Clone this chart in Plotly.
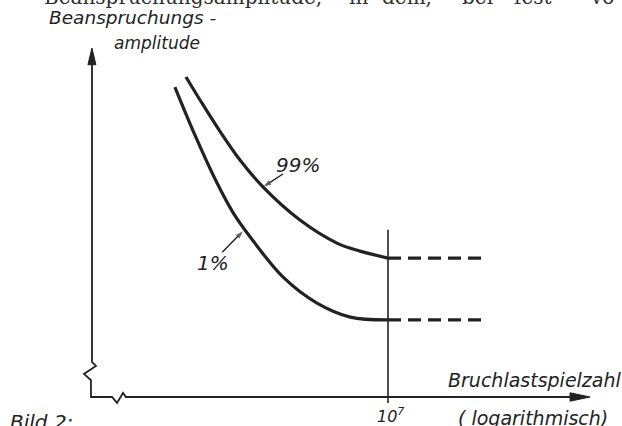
import plotly.graph_objects as go

# ---- data (x = log10 of Bruchlastspielzahl, y = amplitude in relative units) ----
curve99_log_n = [4.27, 4.46, 4.69, 5.00, 5.31, 5.81, 6.31, 6.62, 7.00]
curve99_amp = [91.7, 85.1, 77.4, 67.9, 60.2, 50.7, 44.1, 41.8, 39.8]
curve1_log_n = [4.12, 4.39, 4.69, 4.91, 5.14, 5.58, 6.04, 6.49, 7.00]
curve1_amp = [88.8, 75.1, 61.3, 52.7, 45.8, 34.4, 26.9, 22.9, 22.1]
endurance_log_n = 7.0          # 10^7
dash_end_log_n = 8.27
tick_vals = [7]
tick_text = ["10<sup>7</sup>"]
label_99 = "99%"
label_1 = "1%"

INK = "#222222"
def lbl(size):
    return dict(family="DejaVu Sans", size=size, color=INK, style="italic")

fig = go.Figure()

# curves (solid)
fig.add_trace(go.Scatter(x=curve99_log_n, y=curve99_amp, mode="lines",
                         line=dict(color=INK, width=3.2, shape="spline", smoothing=1.0)))
fig.add_trace(go.Scatter(x=curve1_log_n, y=curve1_amp, mode="lines",
                         line=dict(color=INK, width=3.2, shape="spline", smoothing=1.0)))
# dashed continuations beyond 10^7
fig.add_trace(go.Scatter(x=[endurance_log_n, dash_end_log_n], y=[curve99_amp[-1]] * 2, mode="lines",
                         line=dict(color=INK, width=3.2, dash="13px,7px")))
fig.add_trace(go.Scatter(x=[endurance_log_n, dash_end_log_n], y=[curve1_amp[-1]] * 2, mode="lines",
                         line=dict(color=INK, width=3.2, dash="13px,7px")))

# vertical line at 10^7
fig.add_trace(go.Scatter(x=[endurance_log_n, endurance_log_n], y=[47.9, -1.7], mode="lines",
                         line=dict(color=INK, width=1.6)))

# custom axes with break marks
fig.add_trace(go.Scatter(x=[3.0, 3.0, 3.054, 2.892, 2.986, 2.986, 3.27, 3.338, 3.419, 3.459, 9.46],
                         y=[95.7, 10.0, 8.9, 6.6, 4.8, 0, 0, -1.7, 1.15, 0, 0],
                         mode="lines", line=dict(color=INK, width=1.8)))
# arrow heads of the axes
fig.add_trace(go.Scatter(x=[2.999, 2.945, 3.053, 2.999], y=[100, 95.2, 95.2, 100], mode="lines",
                         fill="toself", fillcolor=INK, line=dict(color=INK, width=1)))
fig.add_trace(go.Scatter(x=[9.73, 9.46, 9.46, 9.73], y=[0, 1.2, -1.2, 0], mode="lines",
                         fill="toself", fillcolor=INK, line=dict(color=INK, width=1)))

# leader arrows to the curves
for xs, ys in (([5.58, 5.32], [63.9, 60.3]), ([4.76, 5.04], [41.5, 47.5])):
    fig.add_trace(go.Scatter(x=xs, y=ys, mode="lines+markers",
                             line=dict(color=INK, width=1.4),
                             marker=dict(symbol="arrow", size=[0, 8], angleref="previous",
                                         color=INK, line=dict(width=0))))

ann = []
ann.append(dict(x=5.78, y=66.5, text=label_99, showarrow=False, font=lbl(20)))
ann.append(dict(x=4.635, y=38.4, text=label_1, showarrow=False, font=lbl(20)))
# tick label
for tv, tt in zip(tick_vals, tick_text):
    ann.append(dict(x=tv + 0.04, y=-5.4, text=tt, showarrow=False, font=lbl(16)))
# axis titles
ann.append(dict(x=8.99, y=4.9, text="Bruchlastspielzahl", showarrow=False, font=lbl(19)))
ann.append(dict(x=8.96, y=-6.0, text="( logarithmisch)", showarrow=False, font=lbl(19)))
ann.append(dict(x=2.392, y=108.6, text="Beanspruchungs -", showarrow=False, xanchor="left", font=lbl(18.5)))
ann.append(dict(x=3.27, y=101.3, text="amplitude", showarrow=False, xanchor="left", font=lbl(17)))
# caption fragments (page context)
ann.append(dict(x=1.865, y=-7.3, text="Bild 2:", showarrow=False, xanchor="left", font=lbl(20)))
serif = dict(family="DejaVu Serif", size=20, color="#2e2e2e")
for xx, tt in ((2.324, "Beanspruchungsamplitude,"), (6.446, "in"), (6.892, "dem,"),
               (7.973, "bei"), (8.676, "fest"), (9.703, "vo")):
    ann.append(dict(x=xx, y=1.0, yref="paper", yanchor="middle", yshift=3,
                    text=tt, showarrow=False, xanchor="left", font=serif))

for a in ann:
    a.setdefault("xref", "x")
    a.setdefault("yref", "y")
fig.update_layout(
    width=622, height=426, margin=dict(l=0, r=0, t=0, b=0),
    paper_bgcolor="white", plot_bgcolor="white", showlegend=False,
    annotations=ann,
    xaxis=dict(range=[1.7568, 10.1622], visible=False, fixedrange=True),
    yaxis=dict(range=[-8.309, 113.754], visible=False, fixedrange=True),
)
fig.write_html("out.html", config={"displayModeBar": False},
               post_script="document.body.style.margin='0';document.body.style.overflow='hidden';")
